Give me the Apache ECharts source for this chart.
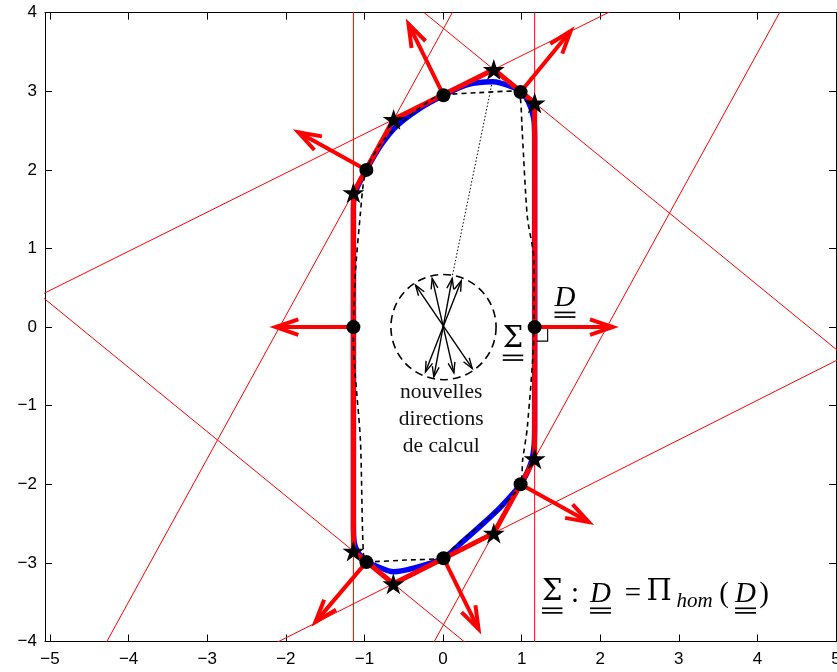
<!DOCTYPE html>
<html><head><meta charset="utf-8">
<script src="https://cdn.jsdelivr.net/npm/echarts@6/dist/echarts.min.js"></script>
<style>html,body{margin:0;padding:0;background:#fff}#c{width:837px;height:672px}</style>
</head><body><div id="c"></div>
<script>
// ---------- data ----------
const xTicks = [-5,-4,-3,-2,-1,0,1,2,3,4,5];
const yTicks = [-4,-3,-2,-1,0,1,2,3,4];
// corners of the polygon (stars), in order
const stars = [[-1.140,1.711],[-0.628,2.643],[0.646,3.277],[1.166,2.852],[1.166,-1.674],[0.646,-2.621],[-0.632,-3.265],[-1.140,-2.850]];
// contact points (circles)
const circles = [[-1.140,0],[-0.975,2.0],[0.006,2.95],[0.987,2.99],[1.166,0],[0.987,-2.0],[0.006,-2.94],[-0.975,-2.99]];
// tips of the red normal arrows, one per circle
const arrowTips = [[-2.13,0],[-1.841,2.48],[-0.439,3.855],[1.624,3.766],[2.159,0],[1.854,-2.481],[0.452,-3.842],[-1.624,-3.753]];
// smooth blue boundary
const blueCurve = [[1.166,0],[1.166,-1.2],[1.16,-1.5],[1.115,-1.74],[0.987,-2.0],[0.732,-2.290],[0.516,-2.494],[0.25,-2.73],[0.006,-2.94],[-0.325,-3.053],[-0.631,-3.113],[-0.885,-3.028],[-0.975,-2.99],[-1.085,-2.86],[-1.13,-2.74],[-1.140,-2.50],[-1.140,0],[-1.140,1.489],[-1.13,1.66],[-1.09,1.78],[-0.975,2.0],[-0.8,2.30],[-0.6,2.55],[-0.3,2.78],[0.006,2.95],[0.312,3.085],[0.631,3.121],[0.898,3.05],[0.987,2.99],[1.076,2.888],[1.153,2.66],[1.166,2.4],[1.166,0]];
// dashed black boundary
const dashedCurve = [[0.006,2.958],[0.452,2.983],[0.898,3.003],[0.962,2.964],[0.987,2.888],[1.009,2.468],[1.073,1.399],[1.157,0.852],[1.157,0],[1.073,-1.272],[1.013,-1.692],[0.987,-1.997],[0.057,-2.875],[0.006,-2.939],[-0.478,-2.964],[-0.966,-2.986],[-1.013,-2.875],[-1.051,-1.438],[-1.140,-0.165],[-1.115,0.687],[-1.051,1.450],[-1.013,1.832],[-0.966,2.036],[-0.758,2.379],[-0.414,2.697],[-0.121,2.913],[0.006,2.958]];
const dottedLine = [[0.121,0.662],[0.631,3.142]];
// double-headed black arrows: [x0,y0,x1,y1]
const directionArrows = [[-0.350,0.534,0.372,-0.526],[-0.138,0.619,0.138,-0.582],[0.117,0.619,-0.117,-0.634],[0.232,0.589,-0.223,-0.569]];
// dashed circle: [cx, cy, r]
const calcCircle = [[0.006,0.0,0.669]];
// annotation anchors
const captionText = 'nouvelles\ndirections\nde calcul';
const captionPos = [[-0.023,-1.172]];
const sigmaPos = [[0.763,-0.293]];
const dPos = [[1.399,0.254]];
const formulaPos = [[1.256,-3.51]];
const formulaPieces = ['Σ',':','D','=','Π','hom','(','D',')'];
const formulaItalic = [0,0,1,0,0,1,0,1,0];
const formulaUnder  = [1,0,1,0,0,0,0,1,0];
const formulaSub    = [0,0,0,0,0,1,0,0,0];

// ---------- helpers ----------
const mctx = document.createElement('canvas').getContext('2d');
const SERIF = 'Liberation Serif', GREEK = 'DejaVu Serif';
function tw(t, fs, italic, fam){ mctx.font = (italic?'italic ':'') + fs + 'px "' + fam + '"'; return mctx.measureText(t).width; }
const MATH_FS = 29, SUB_FS = 21, GREEK_FS = 29;
const formulaCenters = [10.5,33.3,58.8,91.3,117.3,152.8,182.3,203.8,222.3];

function mathPiece(children, t, cx, base, fs, italic, under){
  const greek = /[ΣΠ]/.test(t);
  const fam = greek ? GREEK : SERIF;
  const size = greek ? GREEK_FS : fs;
  const mid = greek ? 0.36 : 0.305;
  children.push({type:'text', style:{text:t, x:cx, y:base-mid*size, fontSize:size, fontFamily:fam, fontStyle: italic?'italic':'normal', fill:'#000', align:'center', verticalAlign:'middle'}});
  if (under){
    const w = Math.max(tw(t, size, italic, fam), 20);
    [5.3, 9.9].forEach(o => children.push({type:'line', shape:{x1:cx-w/2, y1:base+o, x2:cx+w/2, y2:base+o}, style:{stroke:'#000', lineWidth:1.7}}));
  }
}

function arrowRender(color, width, headLen, headAng, both){
  return function(params, api){
    const a = api.coord([api.value(0), api.value(1)]);
    const b = api.coord([api.value(2), api.value(3)]);
    const ang = Math.atan2(b[1]-a[1], b[0]-a[0]);
    const head = (tip, dir) => ({type:'polyline', shape:{points:[
        [tip[0]-headLen*Math.cos(dir-headAng), tip[1]-headLen*Math.sin(dir-headAng)], tip,
        [tip[0]-headLen*Math.cos(dir+headAng), tip[1]-headLen*Math.sin(dir+headAng)]]},
        style:{stroke:color, lineWidth:width, fill:null, lineJoin:'miter'}});
    const ch = [{type:'line', shape:{x1:a[0],y1:a[1],x2:b[0],y2:b[1]}, style:{stroke:color, lineWidth:width}}, head(b, ang)];
    if (both) ch.push(head(a, ang+Math.PI));
    return {type:'group', children:ch};
  };
}

// tangent lines through consecutive stars, extended far (clipped by grid)
const tangentSeries = stars.map((s, i) => {
  const n = stars[(i+1) % stars.length];
  const dx = n[0]-s[0], dy = n[1]-s[1];
  return {type:'line', data:[[s[0]-30*dx, s[1]-30*dy],[s[0]+30*dx, s[1]+30*dy]], showSymbol:false, clip:true,
    lineStyle:{color:'#ff0000', width:1}, z:2, silent:true};
});

const fmt = v => v < 0 ? '\u2212' + (-v) : String(v);
const axisCommon = {axisLine:{onZero:false, lineStyle:{color:'#000', width:1}}, splitLine:{show:false}};

const option = {
  animation:false,
  backgroundColor:'#fff',
  grid:{left:45, right:1, top:12.7, bottom:30.5, containLabel:false, outerBoundsMode:'none'},
  xAxis:[
    Object.assign({type:'value', position:'bottom', min:-5.064, max:5,
      axisTick:{inside:true, length:7, customValues:xTicks, lineStyle:{color:'#000'}},
      axisLabel:{customValues:xTicks, formatter:fmt, fontSize:17, color:'#000', fontFamily:'Liberation Sans', margin:9}}, axisCommon),
    Object.assign({type:'value', position:'top', min:-5.064, max:5,
      axisTick:{inside:true, length:7, customValues:xTicks, lineStyle:{color:'#000'}},
      axisLabel:{show:false}}, axisCommon)
  ],
  yAxis:[
    Object.assign({type:'value', position:'left', min:-4, max:4, interval:1,
      axisTick:{inside:true, length:7, lineStyle:{color:'#000'}},
      axisLabel:{formatter:fmt, fontSize:17, color:'#000', fontFamily:'Liberation Sans', margin:8}}, axisCommon),
    Object.assign({type:'value', position:'right', min:-4, max:4, interval:1,
      axisTick:{inside:true, length:7, lineStyle:{color:'#000'}},
      axisLabel:{show:false}}, axisCommon)
  ],
  series: tangentSeries.concat([
    {type:'line', data:blueCurve, showSymbol:false, smooth:0.25, lineStyle:{color:'#0000ff', width:5.5}, z:3},
    {type:'line', data:stars.concat([stars[0]]), showSymbol:false, lineStyle:{color:'#ff0000', width:5, join:'miter'}, z:4},
    {type:'line', data:dashedCurve, showSymbol:false, smooth:0.25, lineStyle:{color:'#000', width:1.6, type:[5,4]}, z:5},
    {type:'line', data:dottedLine, showSymbol:false, lineStyle:{color:'#000', width:1, type:[1.5,2]}, z:5},
    {type:'custom', data:calcCircle, encode:{x:0,y:1}, z:5,
      renderItem:(p, api) => {
        const c = api.coord([api.value(0), api.value(1)]);
        const r = api.size([api.value(2), 0])[0];
        return {type:'circle', shape:{cx:c[0], cy:c[1], r:r}, style:{fill:null, stroke:'#000', lineWidth:1.6, lineDash:[8,5]}};
      }},
    {type:'custom', data:directionArrows, encode:{x:[0,2], y:[1,3]}, z:5,
      renderItem:arrowRender('#000', 1.4, 11, 0.32, true)},
    {type:'custom', data:circles.map((c,i) => c.concat(arrowTips[i])), encode:{x:[0,2], y:[1,3]}, z:6,
      renderItem:arrowRender('#ff0000', 4, 24, 0.33, false)},
    {type:'custom', data:[circles[4]], encode:{x:0,y:1}, z:6,
      renderItem:(p, api) => {
        const c = api.coord([api.value(0), api.value(1)]);
        return {type:'polyline', shape:{points:[[c[0]+2,c[1]+14],[c[0]+13,c[1]+14],[c[0]+13,c[1]+2]]}, style:{stroke:'#000', lineWidth:1.1, fill:null}};
      }},
    {type:'scatter', data:circles, symbol:'circle', symbolSize:14, itemStyle:{color:'#000', opacity:1}, z:7},
    {type:'scatter', data:stars, symbol:'path://M50,0 L61.2,34.5 L97.6,34.5 L68.2,55.9 L79.4,90.5 L50,69.1 L20.6,90.5 L31.8,55.9 L2.4,34.5 L38.8,34.5 Z', symbolSize:22, symbolKeepAspect:true, itemStyle:{color:'#000', opacity:1}, z:7},
    {type:'custom', data:captionPos, encode:{x:0,y:1}, z:8,
      renderItem:(p, api) => {
        const c = api.coord([api.value(0), api.value(1)]);
        return {type:'text', style:{text:captionText, x:c[0], y:c[1], fontSize:21.5, lineHeight:27.2, fontFamily:'Liberation Serif', fill:'#111', align:'center', verticalAlign:'middle'}};
      }},
    {type:'custom', data:sigmaPos, encode:{x:0,y:1}, z:8,
      renderItem:(p, api) => {
        const c = api.coord([api.value(0), api.value(1)]);
        const ch = [];
        mathPiece(ch, 'Σ', c[0]+10, c[1], MATH_FS, false, true);
        return {type:'group', children:ch};
      }},
    {type:'custom', data:dPos, encode:{x:0,y:1}, z:8,
      renderItem:(p, api) => {
        const c = api.coord([api.value(0), api.value(1)]);
        const ch = [];
        mathPiece(ch, 'D', c[0]+12, c[1], MATH_FS, true, true);
        return {type:'group', children:ch};
      }},
    {type:'custom', data:formulaPos, encode:{x:0,y:1}, z:8,
      renderItem:(p, api) => {
        const c = api.coord([api.value(0), api.value(1)]);
        const ch = [];
        formulaPieces.forEach((t, i) => {
          const fs = formulaSub[i] ? SUB_FS : MATH_FS;
          mathPiece(ch, t, c[0]+formulaCenters[i], c[1] + (formulaSub[i] ? 5 : 0), fs, !!formulaItalic[i], !!formulaUnder[i]);
        });
        return {type:'group', children:ch};
      }}
  ])
};
const chart = echarts.init(document.getElementById('c'));
chart.setOption(option);
</script>
</body></html>
